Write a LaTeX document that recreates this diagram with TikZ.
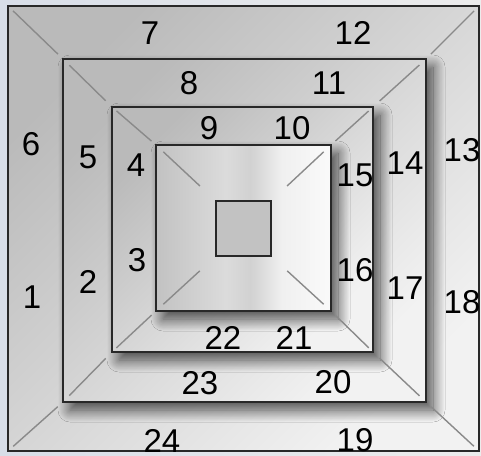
\documentclass[tikz,border=0pt]{standalone}
\usepackage{fontspec}
\setmainfont{Liberation Sans}
\usepackage{xcolor}
\usepackage{tikz}
\usetikzlibrary{shadows.blur}
\definecolor{framegray}{RGB}{40,40,40}
\definecolor{diaggray}{RGB}{138,138,138}
\definecolor{bgblue}{RGB}{216,222,232}
\definecolor{bglight}{RGB}{236,236,236}
\pgfdeclarehorizontalshading{glass}{100bp}{color(0bp)=(black!24); color(25bp)=(black!24); color(45bp)=(black!14); color(52bp)=(black!18); color(61bp)=(black!6); color(75bp)=(black!2); color(100bp)=(black!2)}

\begin{document}
\begin{tikzpicture}[x=1pt,y=-1pt,
    sq/.style={rectangle,draw=framegray,line width=2pt,inner sep=0pt,outer sep=0pt},
    ring/.style={top color=black!27,middle color=black!21,bottom color=black!5,shading angle=45},
    boxshadow/.style={blur shadow={shadow xshift=7pt,shadow yshift=-8pt,shadow blur radius=12pt,shadow blur steps=20,shadow opacity=70}},
    diag/.style={draw=diaggray,line width=1.4pt},
    num/.style={font=\fontsize{33}{33}\selectfont,inner sep=0pt}]
        % background
        \fill[left color=bgblue,right color=bglight] (0,0) rectangle (481,455);

        % outer ring
        \node[sq,ring,minimum width=471pt,minimum height=445pt] (sq1) at (243.5,228.5) {};
        \node[sq,ring,boxshadow,minimum width=363pt,minimum height=343pt] (sq2) at (244.5,230.5) {};
        \draw[diag,shorten <=7pt,shorten >=7pt] (sq1.north west) -- (sq2.north west);
        \draw[diag,shorten <=7pt,shorten >=7pt] (sq1.north east) -- (sq2.north east);
        \draw[diag,shorten <=7pt,shorten >=7pt] (sq1.south west) -- (sq2.south west);
        \draw[diag,shorten <=7pt,shorten >=7pt] (sq1.south east) -- (sq2.south east);

        % second ring
        \node[sq,ring,boxshadow,minimum width=261pt,minimum height=245pt] (sq3) at (242.5,229.5) {};
        \draw[diag,shorten <=9pt,shorten >=9pt] (sq2.north west) -- (sq3.north west);
        \draw[diag,shorten <=9pt,shorten >=9pt] (sq2.north east) -- (sq3.north east);
        \draw[diag,shorten <=9pt,shorten >=9pt] (sq2.south west) -- (sq3.south west);
        \draw[diag,shorten <=9pt,shorten >=9pt] (sq2.south east) -- (sq3.south east);

        % third ring
        \node[sq,shading=glass,boxshadow,minimum width=175pt,minimum height=166pt] (sq4) at (243.5,228) {};
        \draw[diag,shorten <=6pt,shorten >=6pt] (sq3.north west) -- (sq4.north west);
        \draw[diag,shorten <=6pt,shorten >=6pt] (sq3.north east) -- (sq4.north east);
        \draw[diag,shorten <=6pt,shorten >=6pt] (sq3.south west) -- (sq4.south west);
        \draw[diag,shorten <=6pt,shorten >=6pt] (sq3.south east) -- (sq4.south east);

        % centre
        \node[sq,fill=black!24,minimum width=55pt,minimum height=55pt] (sq5) at (243.5,228.5) {};
        \draw[diag,shorten <=10pt,shorten >=22pt] (sq4.north west) -- (sq5.north west);
        \draw[diag,shorten <=10pt,shorten >=22pt] (sq4.north east) -- (sq5.north east);
        \draw[diag,shorten <=10pt,shorten >=22pt] (sq4.south west) -- (sq5.south west);
        \draw[diag,shorten <=10pt,shorten >=22pt] (sq4.south east) -- (sq5.south east);

        % numbers
        \node[num] (n1) at (32,297) {1};
        \node[num] (n2) at (88,282) {2};
        \node[num] (n3) at (137,260) {3};
        \node[num] (n4) at (136,165) {4};
        \node[num] (n5) at (88,157) {5};
        \node[num] (n6) at (31,144) {6};
        \node[num] (n7) at (150,33) {7};
        \node[num] (n8) at (189,83) {8};
        \node[num] (n9) at (209,128) {9};
        \node[num] (n10) at (292,128) {10};
        \node[num] (n11) at (329,83) {11};
        \node[num] (n12) at (353,33) {12};
        \node[num] (n13) at (462,150) {13};
        \node[num] (n14) at (405,163) {14};
        \node[num] (n15) at (355,175) {15};
        \node[num] (n16) at (355,270) {16};
        \node[num] (n17) at (405,288) {17};
        \node[num] (n18) at (462,302) {18};
        \node[num] (n19) at (355,440) {19};
        \node[num] (n20) at (333,382) {20};
        \node[num] (n21) at (294,338) {21};
        \node[num] (n22) at (223,338) {22};
        \node[num] (n23) at (200,383) {23};
        \node[num] (n24) at (162,441) {24};
\end{tikzpicture}
\end{document}
